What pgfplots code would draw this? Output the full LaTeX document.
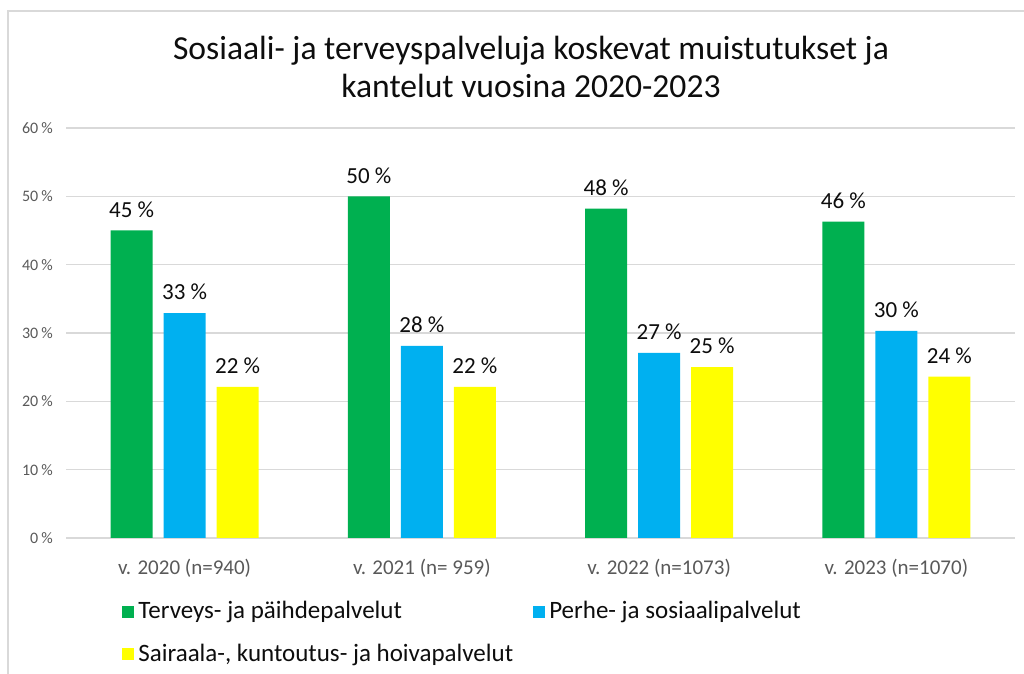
\documentclass[border=0pt]{standalone}
\usepackage{fontspec}
\setmainfont{Carlito}
\usepackage{pgfplots}
\pgfplotsset{compat=1.18}
\definecolor{cgreen}{RGB}{0,176,80}
\definecolor{ccyan}{RGB}{0,176,240}
\definecolor{cyel}{RGB}{255,255,0}
\definecolor{gridc}{RGB}{217,217,217}
\definecolor{ticktext}{RGB}{89,89,89}
\definecolor{txt}{RGB}{13,13,13}
\pgfplotsset{sq/.style={legend image code/.code={\fill[##1] (0pt,-3pt) rectangle (6pt,3pt);}}}
\begin{document}
\begin{tikzpicture}
\path[use as bounding box] (0,0) rectangle (512pt,337pt);
\draw[gridc, line width=1pt] (4pt,0) -- (4pt,331.5pt) -- (512pt,331.5pt);
\node[align=center, font=\fontsize{16.8}{19.2}\selectfont, text=txt] at (265.5pt,303.5pt) {Sosiaali- ja terveyspalveluja koskevat muistutukset ja\\kantelut vuosina 2020-2023};
\begin{axis}[
 at={(33pt,68pt)}, anchor=south west,
 scale only axis, width=474.5pt, height=205pt,
 ymin=0, ymax=60, xmin=-0.5, xmax=3.5,
 ybar=5.5pt, bar width=21pt,
 xtick={0,1,2,3},
 xticklabels={{v. 2020 (n=940)},{v. 2021 (n= 959)},{v. 2022 (n=1073)},{v. 2023 (n=1070)}},
 ytick={0,10,20,30,40,50,60},
 yticklabel={\pgfmathprintnumber{\tick}\hspace{0.2em}\%},
 /pgf/number format/assume math mode=true,
 axis line style={draw=none},
 major tick length=0pt,
 ymajorgrids, grid style={gridc, line width=0.75pt},
 yticklabel style={font=\fontsize{8}{9}\selectfont, text=ticktext, xshift=-3pt},
 xticklabel style={font=\fontsize{10.5}{12}\selectfont, text=ticktext, yshift=-7pt},
 nodes near coords={\pgfmathprintnumber[fixed,precision=0]{\pgfplotspointmeta}~\%},
 every node near coord/.append style={font=\fontsize{11.5}{13}\selectfont, text=txt, yshift=3pt},
 legend columns=2,
 legend style={at={(0,0)}, anchor=north west, xshift=28pt, yshift=-29.5pt, draw=none, fill=none,
   inner sep=0pt, font=\fontsize{12.5}{14}\selectfont, text=txt, cells={anchor=west},
   /tikz/every even column/.append style={column sep=8pt}, row sep=7pt},
]
\addplot[fill=cgreen, draw=none, sq] coordinates {(0,45) (1,50) (2,48.2) (3,46.3)};
\addlegendentry{Terveys- ja päihdepalvelut}
\addplot[fill=ccyan, draw=none, sq] coordinates {(0,32.9) (1,28.1) (2,27.1) (3,30.3)};
\addlegendentry{Perhe- ja sosiaalipalvelut}
\addplot[fill=cyel, draw=none, sq] coordinates {(0,22.1) (1,22.1) (2,25.0) (3,23.6)};
\addlegendentry{Sairaala-, kuntoutus- ja hoivapalvelut}
\end{axis}
\end{tikzpicture}
\end{document}
